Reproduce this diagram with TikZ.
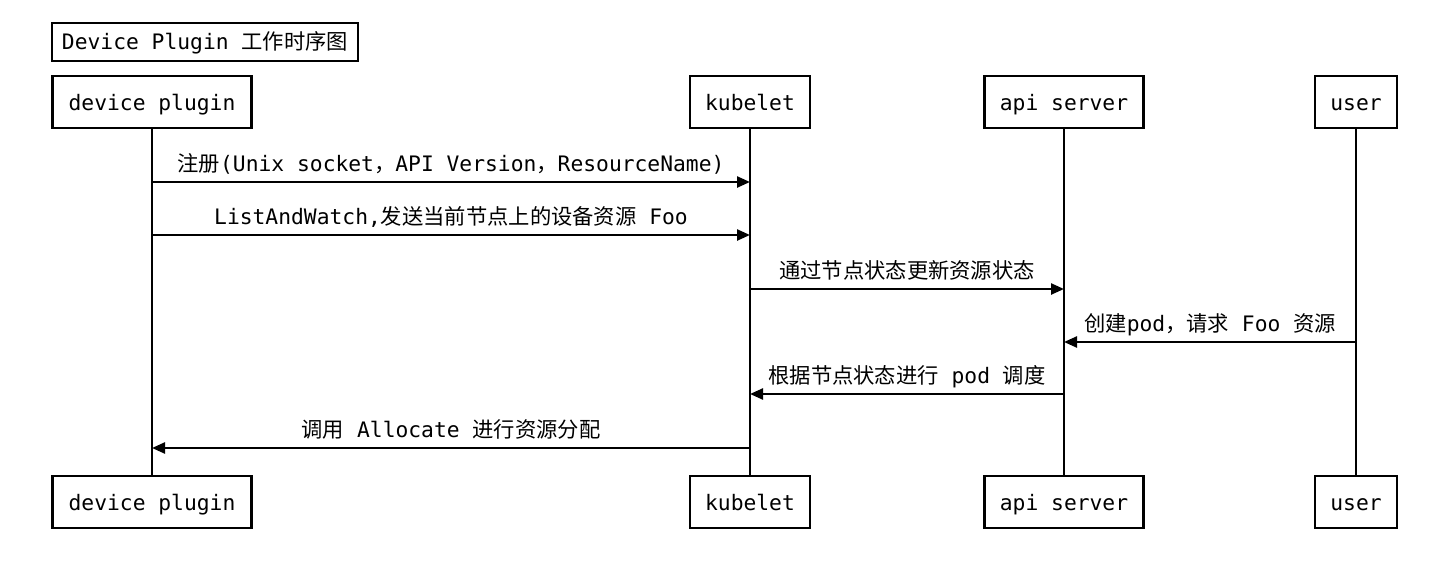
\documentclass[tikz,border=0pt]{standalone}
\usepackage{fontspec}
\setmainfont{DejaVu Sans Mono}
\newfontfamily\cjk{Noto Sans CJK SC}
\usetikzlibrary{arrows.meta}
\begin{document}
\begin{tikzpicture}[x=1pt,y=-1pt,
  every node/.style={font=\fontsize{21.3}{25}\selectfont},
  actor/.style={draw, line width=2.6pt, minimum height=52pt, inner sep=0pt, outer sep=0pt,
    text height=18pt, text depth=2pt},
  life/.style={line width=2.4pt},
  msg/.style={line width=2.4pt, -{Triangle[length=13pt,width=11pt]}},
  lbl/.style={anchor=base, inner sep=0pt, outer sep=0pt}
]
\fill[white] (0,0) rectangle (1442,578);
\useasboundingbox (0,0) rectangle (1442,578);

\node[actor, minimum width=306pt, minimum height=38pt] (title) at (205,42) {Device Plugin {\cjk 工作时序图}};

\node[actor, minimum width=199pt] (dp) at (152,102) {device plugin};
\node[actor, minimum width=120pt] (kb) at (750,102) {kubelet};
\node[actor, minimum width=159pt] (as) at (1064,102) {api server};
\node[actor, minimum width=82pt] (us) at (1356,102) {user};

\node[actor, minimum width=199pt] (dpb) at (152,502) {device plugin};
\node[actor, minimum width=120pt] (kbb) at (750,502) {kubelet};
\node[actor, minimum width=159pt] (asb) at (1064,502) {api server};
\node[actor, minimum width=82pt] (usb) at (1356,502) {user};

\draw[life] (dp) -- (dpb);
\draw[life] (kb) -- (kbb);
\draw[life] (as) -- (asb);
\draw[life] (us) -- (usb);

\draw[msg] (dp.south |- 0,182) -- (kb.south |- 0,182)
  node[lbl, midway, yshift=10.5pt] {{\cjk 注册}(Unix socket{\cjk ，}API Version{\cjk ，}ResourceName)};
\draw[msg] (dp.south |- 0,235) -- (kb.south |- 0,235)
  node[lbl, midway, yshift=10.5pt] {ListAndWatch,{\cjk 发送当前节点上的设备资源} Foo};
\draw[msg] (kb.south |- 0,289) -- (as.south |- 0,289)
  node[lbl, midway, yshift=10.5pt] {{\cjk 通过节点状态更新资源状态}};
\draw[msg] (us.south |- 0,342) -- (as.south |- 0,342)
  node[lbl, midway, yshift=10.5pt] {{\cjk 创建}pod{\cjk ，请求} Foo {\cjk 资源}};
\draw[msg] (as.south |- 0,394) -- (kb.south |- 0,394)
  node[lbl, midway, yshift=10.5pt] {{\cjk 根据节点状态进行} pod {\cjk 调度}};
\draw[msg] (kb.south |- 0,448) -- (dp.south |- 0,448)
  node[lbl, midway, yshift=10.5pt] {{\cjk 调用} Allocate {\cjk 进行资源分配}};
\end{tikzpicture}
\end{document}
